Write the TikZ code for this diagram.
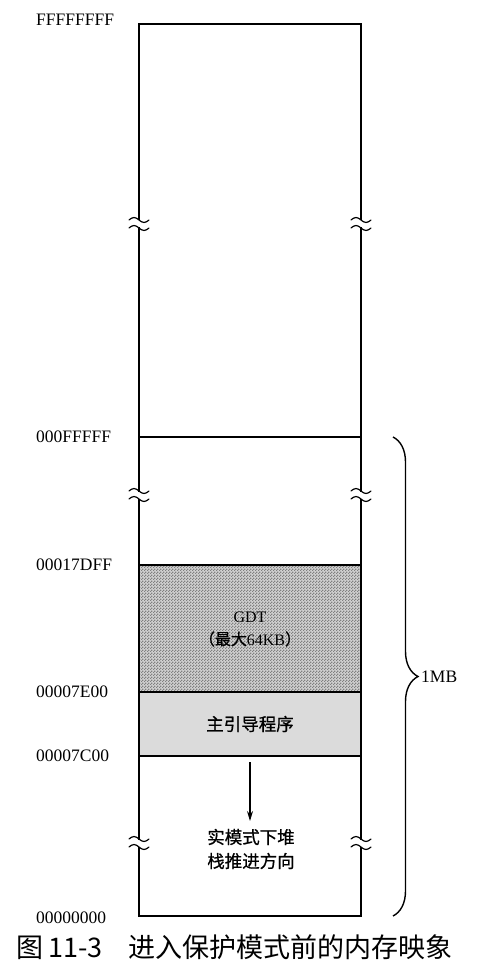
\documentclass[tikz,border=0pt]{standalone}
\usepackage{fontspec}
\setmainfont{Liberation Serif}
\newfontfamily\cjk{Noto Sans CJK SC}
\newfontfamily\cjkm[FakeBold=0.8]{Noto Sans CJK SC}
\usetikzlibrary{decorations.pathreplacing,patterns.meta,arrows.meta}
\tikzdeclarepattern{name=finechk, type=uncolored,
  bottom left={(0pt,0pt)}, top right={(3pt,3pt)}, tile size={(3pt,3pt)},
  code={\pgfpathrectangle{\pgfpoint{0pt}{0pt}}{\pgfpoint{1.5pt}{1.5pt}}\pgfpathrectangle{\pgfpoint{1.5pt}{1.5pt}}{\pgfpoint{1.5pt}{1.5pt}}\pgfusepath{fill}}}
\definecolor{bootgray}{gray}{0.86}
\definecolor{gdtlight}{gray}{0.82}
\definecolor{gdtdark}{gray}{0.50}
\tikzset{
  addr/.style={anchor=west, inner sep=0pt, font=\fontsize{17.5}{17.5}\selectfont},
  memline/.style={line width=1.3pt},
  cjklabel/.style={inner sep=0pt, align=center, font=\cjkm\fontsize{17.5}{24}\selectfont},
  tild/.style={line width=1.2pt, line cap=round}
}
\newcommand{\brkmark}[2]{%
  \fill[white] (#1-3,#2-3.5) rectangle (#1+3,#2+3.5);
  \draw[tild] (#1-10,#2-4) sin (#1-5,#2-6.5) cos (#1,#2-4) sin (#1+5,#2-1.5) cos (#1+10,#2-4);
  \draw[tild] (#1-10,#2+4) sin (#1-5,#2+1.5) cos (#1,#2+4) sin (#1+5,#2+6.5) cos (#1+10,#2+4);
}
\begin{document}
\begin{tikzpicture}[x=1pt,y=-1pt]
\useasboundingbox (0,0) rectangle (503,973);
% rows
\coordinate (tl) at (139,24);   \coordinate (tr) at (361,24);
\coordinate (a1l) at (139,437); \coordinate (a1r) at (361,437);
\coordinate (a2l) at (139,565); \coordinate (a2r) at (361,565);
\coordinate (a3l) at (139,692); \coordinate (a3r) at (361,692);
\coordinate (a4l) at (139,756); \coordinate (a4r) at (361,756);
\coordinate (bl) at (139,916);  \coordinate (br) at (361,916);
% fills
\fill[gdtlight] (a2l) rectangle (a3r);
\fill[pattern={finechk}, pattern color=gdtdark] (a2l) rectangle (a3r);
\fill[bootgray] (a3l) rectangle (a4r);
% outline
\draw[memline] (tl) rectangle (br);
\draw[memline] (a1l) -- (a1r);
\draw[memline] (a2l) -- (a2r);
\draw[memline] (a3l) -- (a3r);
\draw[memline] (a4l) -- (a4r);
% break marks
\brkmark{139}{224}\brkmark{361}{224}
\brkmark{139}{495}\brkmark{361}{495}
\brkmark{139}{843}\brkmark{361}{843}
% address labels
\node[addr] (lF) at (36,20) {FFFFFFFF};
\node[addr] (l1) at (36,437) {000FFFFF};
\node[addr] (l2) at (36,565) {00017DFF};
\node[addr] (l3) at (36,692) {00007E00};
\node[addr] (l4) at (36,756) {00007C00};
\node[addr] (l0) at (36,918) {00000000};
% contents
\node[inner sep=0pt, align=center, font=\fontsize{16}{23}\selectfont] (gdt) at (250,629) {GDT\\{\cjkm （最大}64KB{\cjkm ）}};
\node[cjklabel] (boot) at (250,724) {主引导程序};
\node[cjklabel] (stack) at (251,849) {实模式下堆\\栈推进方向};
\coordinate (as) at (250,762);
\coordinate (ae) at (250,821);
\draw[line width=1.2pt, -{Stealth[length=10pt,width=6pt]}] (as) -- (ae);
% brace
\coordinate (bt) at (393,437);
\coordinate (bb) at (393,916);
\draw[line width=1.4pt, decorate, decoration={brace, amplitude=25pt}] (bt) -- (bb);
\node[addr] (mb) at (421,677) {1MB};
% caption
\node[anchor=west, inner sep=0pt, font=\cjk\fontsize{27}{27}\selectfont] (cap) at (16,947) {图\hspace{5pt}11-3\hspace{26pt}进入保护模式前的内存映象};
\end{tikzpicture}
\end{document}
